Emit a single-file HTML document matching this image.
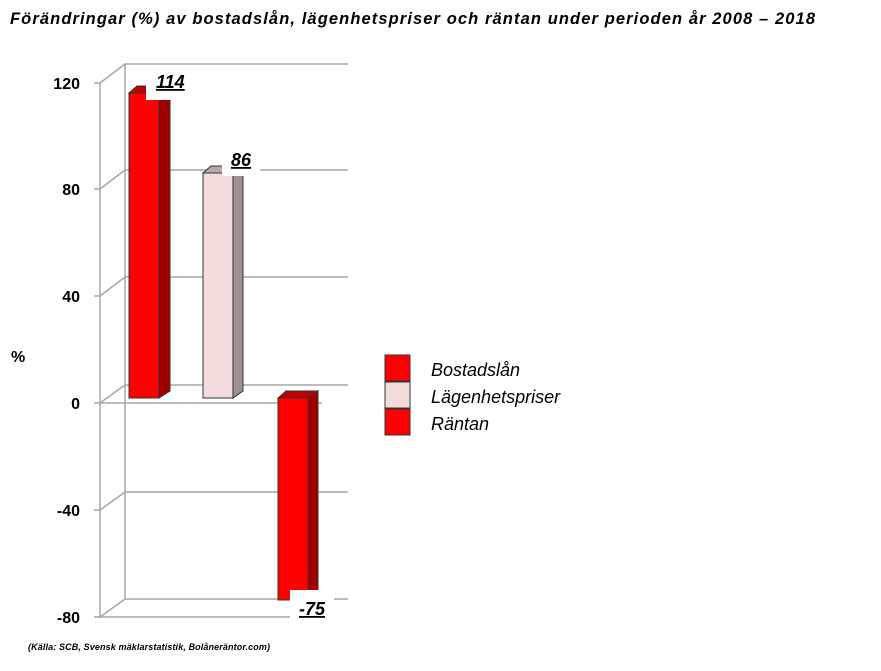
<!DOCTYPE html>
<html><head><style>
body{margin:0;background:#fff;width:881px;height:666px;overflow:hidden;font-family:"Liberation Sans",sans-serif}
</style></head><body>
<svg width="881" height="666" xmlns="http://www.w3.org/2000/svg" font-family="Liberation Sans, sans-serif">
<text x="10" y="24" font-size="16.5" font-weight="bold" font-style="italic" textLength="805" lengthAdjust="spacing">Förändringar (%) av bostadslån,  lägenhetspriser  och räntan under perioden år 2008 – 2018</text>
<g stroke="#a6a6a6" stroke-width="1.5" fill="none">
<line x1="100" y1="83" x2="100" y2="618"/>
<line x1="125" y1="64" x2="125" y2="599"/>
<g>
<path d="M100 83 L125 64 L348 64"/><path d="M100 189 L125 170 L348 170"/>
<path d="M100 296 L125 277 L348 277"/><path d="M100 403 L125 385 L348 385"/>
<path d="M100 510 L125 492 L348 492"/><path d="M100 617 L125 599 L348 599"/>
<line x1="100" y1="403" x2="322" y2="403"/>
<line x1="100" y1="617" x2="322" y2="617"/>
</g>
<g><line x1="94" y1="83" x2="100" y2="83"/><line x1="94" y1="189" x2="100" y2="189"/><line x1="94" y1="296" x2="100" y2="296"/><line x1="94" y1="403" x2="100" y2="403"/><line x1="94" y1="510" x2="100" y2="510"/><line x1="94" y1="617" x2="100" y2="617"/></g>
</g>
<g font-size="16" font-weight="bold" text-anchor="end">
<text x="80" y="89">120</text><text x="80" y="195">80</text><text x="80" y="302">40</text><text x="80" y="409">0</text><text x="80" y="516">-40</text><text x="80" y="623">-80</text>
</g>
<text x="11" y="362" font-size="16" font-weight="bold">%</text>
<g stroke="#333" stroke-width="1">
<path d="M129 93 L137 86 L170 86 L159 93Z" fill="#c00000"/>
<path d="M159 93 L170 86 L170 391 L159 398Z" fill="#a00000"/>
<rect x="129" y="93" width="30" height="305" fill="#ff0000"/>
<path d="M203 173 L211 166 L243 166 L233 173Z" fill="#b8a8a8"/>
<path d="M233 173 L243 166 L243 391 L233 398Z" fill="#a09090"/>
<rect x="203" y="173" width="30" height="225" fill="#f2dcdb"/>
<path d="M278 398 L286 391 L318 391 L308 398Z" fill="#c00000"/>
<path d="M308 398 L318 391 L318 593 L308 600Z" fill="#a00000"/>
<rect x="278" y="398" width="30" height="202" fill="#ff0000"/>
</g>
<rect x="146" y="66" width="48" height="34" fill="#fff"/>
<rect x="222" y="148" width="38" height="28" fill="#fff"/>
<rect x="290" y="590" width="44" height="30" fill="#fff"/>
<g font-size="18" font-weight="bold" font-style="italic" text-decoration="underline">
<text x="156" y="88">114</text><text x="231" y="166">86</text><text x="299" y="615">-75</text>
</g>
<g stroke="#333" stroke-width="1">
<rect x="385" y="355" width="25" height="26" fill="#ff0000"/>
<rect x="385" y="382" width="25" height="26" fill="#f2dcdb"/>
<rect x="385" y="409" width="25" height="26" fill="#ff0000"/>
</g>
<g font-size="18" font-style="italic">
<text x="431" y="376">Bostadslån</text><text x="431" y="403">Lägenhetspriser</text><text x="431" y="430">Räntan</text>
</g>
<text x="28" y="650" font-size="9" font-weight="bold" font-style="italic" textLength="242" lengthAdjust="spacing">(Källa: SCB, Svensk mäklarstatistik, Bolåneräntor.com)</text>
</svg>
</body></html>
